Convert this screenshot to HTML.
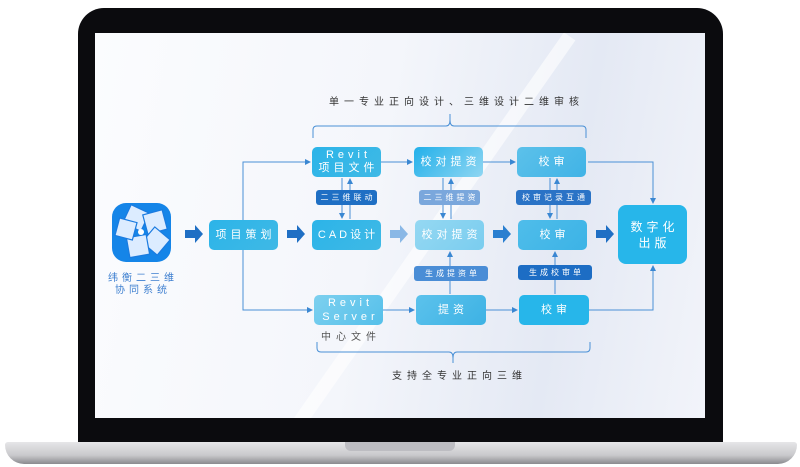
<!DOCTYPE html>
<html><head><meta charset="utf-8"><style>
*{margin:0;padding:0;box-sizing:border-box}
body{width:800px;height:467px;background:#fff;position:relative;overflow:hidden;font-family:"Liberation Sans","Noto Sans CJK SC",sans-serif}
.a{position:absolute}
.box{position:absolute;border-radius:5px;color:#fff;font-size:11px;letter-spacing:4px;padding-left:4px;display:flex;align-items:center;justify-content:center;text-align:center;line-height:13px;white-space:nowrap;background:linear-gradient(135deg,#2cb4e8,#3fb9e6)}
.tag{position:absolute;border-radius:3px;color:#fff;font-size:8px;letter-spacing:3px;padding-left:3px;display:flex;align-items:center;justify-content:center;white-space:nowrap;background:#1f6fc4}
.lbl{position:absolute;font-size:10px;letter-spacing:5px;color:#333;white-space:nowrap}
</style></head><body>
<div class="a" style="left:78px;top:8px;width:645px;height:436px;background:#0b0b0e;border-radius:26px 26px 0 0"></div>
<div class="a" style="left:5px;top:442px;width:792px;height:22px;background:linear-gradient(#e6e6e8,#c9c9cc 60%,#8a8a8e);border-radius:3px 3px 20px 20px"></div>
<div class="a" style="left:345px;top:442px;width:110px;height:9px;background:#bdbdc2;border-radius:0 0 6px 6px"></div>
<div class="a" style="left:95px;top:33px;width:610px;height:385px;background:linear-gradient(100deg,#fbfcfe 0%,#f4f6fb 45%,#e4e9f4 75%,#f2f4fa 100%)"></div>
<div class="a" style="left:95px;top:33px;width:610px;height:385px;overflow:hidden"><div style="position:absolute;left:330px;top:-40px;width:14px;height:480px;background:rgba(255,255,255,.6);transform:rotate(35deg)"></div></div>

<svg class="a" style="left:0;top:0" width="800" height="467">
<defs><marker id="m" markerWidth="6" markerHeight="6" refX="5" refY="3" orient="auto"><path d="M0,0L6,3L0,6z" fill="#3a87d2"/></marker></defs>
<g stroke="#4a90d6" stroke-width="1" fill="none">
<path d="M313,138V130Q313,126 317,126H446Q450,126 450,120V114M450,120Q450,126 454,126H582Q586,126 586,130V138"/>
<path d="M317,342V348Q317,352 321,352H449Q453,352 453,358V363M453,358Q453,352 457,352H586Q590,352 590,348V342"/>
<path d="M243,220V162H310" marker-end="url(#m)"/>
<path d="M243,250V310H312" marker-end="url(#m)"/>
<path d="M381,162H412" marker-end="url(#m)"/>
<path d="M483,162H515" marker-end="url(#m)"/>
<path d="M383,310H414" marker-end="url(#m)"/>
<path d="M486,310H517" marker-end="url(#m)"/>
<path d="M588,162H653V203" marker-end="url(#m)"/>
<path d="M589,310H653V266" marker-end="url(#m)"/>
<path d="M342,178V218" marker-end="url(#m)"/><path d="M350,219V179" marker-end="url(#m)"/>
<path d="M443,178V218" marker-end="url(#m)"/><path d="M451,219V179" marker-end="url(#m)"/>
<path d="M550,178V218" marker-end="url(#m)"/><path d="M557,219V179" marker-end="url(#m)"/>
<path d="M450,294V252" marker-end="url(#m)"/>
<path d="M555,294V252" marker-end="url(#m)"/>
</g>
<g>
<path d="M185,230h10v-5l8,9l-8,9v-5h-10z" fill="#1f6fc4"/>
<path d="M287,230h10v-5l8,9l-8,9v-5h-10z" fill="#1f6fc4"/>
<path d="M390,230h10v-5l8,9l-8,9v-5h-10z" fill="#8ab8e6"/>
<path d="M493,230h10v-5l8,9l-8,9v-5h-10z" fill="#2a7fd0"/>
<path d="M596,230h10v-5l8,9l-8,9v-5h-10z" fill="#1f6fc4"/>
</g>
<rect x="112" y="203" width="59" height="59" rx="14" fill="#1585e8"/>
<g fill="#dcecff" stroke="#1a7be0" stroke-width="1.2">
<rect x="126" y="208" width="20" height="20" transform="rotate(25 136 218)"/>
<rect x="145" y="212" width="20" height="20" transform="rotate(-15 155 222)"/>
<rect x="146" y="231" width="20" height="20" transform="rotate(40 156 241)"/>
<rect x="128" y="236" width="20" height="20" transform="rotate(-10 138 246)"/>
<rect x="117" y="220" width="18" height="18" transform="rotate(15 126 229)"/>
</g>
<circle cx="141" cy="232" r="3" fill="#fff"/>
</svg>

<div class="lbl" style="left:329px;top:93px">单一专业正向设计、三维设计二维审核</div>
<div class="lbl" style="left:392px;top:367px">支持全专业正向三维</div>
<div class="lbl" style="left:105px;top:273px;color:#3d7fd0;font-size:10px;letter-spacing:4px;line-height:12px;text-align:center;width:76px">纬衡二三维<br>协同系统</div>
<div class="lbl" style="left:321px;top:328px;color:#555">中心文件</div>

<div class="box" style="left:209px;top:220px;width:69px;height:30px">项目策划</div>
<div class="box" style="left:312px;top:147px;width:69px;height:30px">Revit<br>项目文件</div>
<div class="box" style="left:312px;top:220px;width:69px;height:30px;letter-spacing:3px;padding-left:3px">CAD设计</div>
<div class="box" style="left:314px;top:295px;width:69px;height:30px;background:linear-gradient(135deg,#7dd0ef,#55c0ea);line-height:14px">Revit<br>Server</div>
<div class="box" style="left:414px;top:147px;width:69px;height:30px;background:linear-gradient(135deg,#22b0ea,#8fd6f2)">校对提资</div>
<div class="box" style="left:415px;top:220px;width:69px;height:30px;background:linear-gradient(135deg,#95d8f2,#7acdef)">校对提资</div>
<div class="box" style="left:416px;top:295px;width:70px;height:30px;background:linear-gradient(135deg,#5cc2ec,#3db2e4)">提资</div>
<div class="box" style="left:517px;top:147px;width:69px;height:30px;background:linear-gradient(135deg,#5cc1ea,#40b3e6)">校审</div>
<div class="box" style="left:518px;top:220px;width:69px;height:30px;background:linear-gradient(135deg,#4fbdea,#3cb3e6)">校审</div>
<div class="box" style="left:519px;top:295px;width:70px;height:30px;background:#27b6ea">校审</div>
<div class="box" style="left:618px;top:205px;width:69px;height:59px;border-radius:8px;background:#27b6ea;font-size:12px;line-height:16px">数字化<br>出版</div>

<div class="tag" style="left:316px;top:190px;width:61px;height:15px">二三维联动</div>
<div class="tag" style="left:419px;top:190px;width:61px;height:15px;background:#7aa7dc">二三维提资</div>
<div class="tag" style="left:516px;top:190px;width:75px;height:15px;background:#2a73c6">校审记录互通</div>
<div class="tag" style="left:414px;top:266px;width:74px;height:15px;background:#4a8dd6">生成提资单</div>
<div class="tag" style="left:518px;top:265px;width:74px;height:15px;background:#1d6dc4">生成校审单</div>
</body></html>
